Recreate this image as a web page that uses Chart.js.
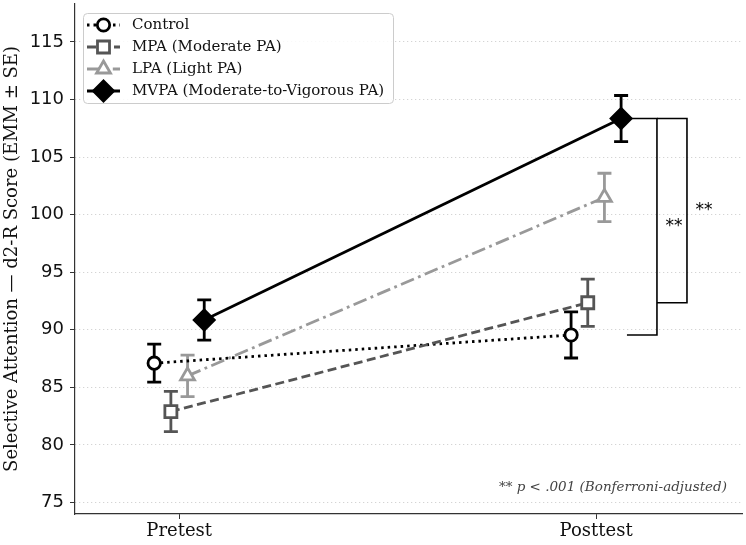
<!DOCTYPE html>
<html>
<head>
<meta charset="utf-8">
<title>Selective Attention d2-R</title>
<style>
  body { margin: 0; background: #fff; }
  #wrap { width: 746px; height: 545px; }
</style>
</head>
<body>
<div id="wrap"><canvas id="chart" width="746" height="545"></canvas></div>
<script src="https://cdn.jsdelivr.net/npm/chart.js@4/dist/chart.umd.min.js"></script>
<script>
// values (EMM and SE per group, pretest / posttest)
const timepoints = ['Pretest', 'Posttest'];
const groupNames = ['Control', 'MPA (Moderate PA)', 'LPA (Light PA)', 'MVPA (Moderate-to-Vigorous PA)'];
const controlMean = [87.1, 89.55];
const controlSE = [1.65, 2.0];
const mpaMean = [82.9, 92.35];
const mpaSE = [1.75, 2.05];
const lpaMean = [86.0, 101.5];
const lpaSE = [1.8, 2.1];
const mvpaMean = [90.85, 108.35];
const mvpaSE = [1.75, 2.0];
const yTicks = [75, 80, 85, 90, 95, 100, 105, 110, 115];
// posttest comparisons: [lower group, upper group, label]
const sigPairs = [[0, 3, '**'], [1, 3, '**']];
const footnote = '** p < .001 (Bonferroni-adjusted)';

const means = [controlMean, mpaMean, lpaMean, mvpaMean];
const ses = [controlSE, mpaSE, lpaSE, mvpaSE];

// look
const serif = "'DejaVu Serif', 'Liberation Serif', serif";
const sans = "'DejaVu Sans', sans-serif";
const lw = 2.8;
const dodge = [-0.06, -0.02, 0.02, 0.06];
const styles = [
    { color: '#000000', dash: [2.5, 4], point: 'circle', r: 6.2, fill: '#ffffff' },
    { color: '#555555', dash: [9, 4.5], point: 'rect', r: 8.5, fill: '#ffffff' },
    { color: '#999999', dash: [14, 4.5, 2.8, 4.5], point: 'triangle', r: 8, fill: '#ffffff' },
    { color: '#000000', dash: [], point: 'rectRot', r: 10, fill: '#000000' }
];
const bracketX = [1.146, 1.218];
const bracketTick = 0.072;

const datasets = groupNames.map((name, g) => ({
    label: name,
    data: means[g].map((m, i) => ({ x: i + dodge[g], y: m })),
    borderColor: styles[g].color,
    borderWidth: lw,
    borderDash: styles[g].dash,
    pointStyle: styles[g].point,
    pointRadius: styles[g].r,
    pointHoverRadius: styles[g].r,
    pointBackgroundColor: styles[g].fill,
    pointBorderColor: styles[g].color,
    pointBorderWidth: lw,
    tension: 0,
    order: 3 - g
}));

// error bars (mean +/- SE) under the markers
const errorBars = {
    id: 'errorBars',
    beforeDatasetsDraw(chart) {
        const { ctx, scales: { x, y } } = chart;
        ctx.save();
        ctx.setLineDash([]);
        chart.data.datasets.forEach((ds, g) => {
            ctx.strokeStyle = ds.borderColor;
            ctx.lineWidth = lw;
            ds.data.forEach((p, i) => {
                const px = x.getPixelForValue(p.x);
                const top = y.getPixelForValue(p.y + ses[g][i]);
                const bot = y.getPixelForValue(p.y - ses[g][i]);
                ctx.beginPath();
                ctx.moveTo(px, top); ctx.lineTo(px, bot);
                ctx.moveTo(px - 7, top); ctx.lineTo(px + 7, top);
                ctx.moveTo(px - 7, bot); ctx.lineTo(px + 7, bot);
                ctx.stroke();
            });
        });
        ctx.restore();
    }
};

// significance brackets, footnote and legend
const extras = {
    id: 'extras',
    afterDraw(chart) {
        const { ctx, scales: { x, y }, chartArea } = chart;
        ctx.save();
        ctx.setLineDash([]);

        sigPairs.forEach((pair, k) => {
            const yLo = y.getPixelForValue(means[pair[0]][1]);
            const yHi = y.getPixelForValue(means[pair[1]][1]);
            const xb = x.getPixelForValue(bracketX[k]);
            const xl = x.getPixelForValue(bracketX[k] - bracketTick);
            ctx.strokeStyle = '#000';
            ctx.lineWidth = 1.6;
            ctx.beginPath();
            ctx.moveTo(xl, yHi); ctx.lineTo(xb, yHi);
            ctx.lineTo(xb, yLo); ctx.lineTo(xl, yLo);
            ctx.stroke();
            ctx.fillStyle = '#000';
            ctx.font = '17px ' + sans;
            ctx.textAlign = 'center';
            ctx.textBaseline = 'middle';
            ctx.fillText(pair[2], xb + 17, (yLo + yHi) / 2);
        });

        ctx.font = 'italic 13.5px ' + serif;
        ctx.fillStyle = '#444';
        ctx.textAlign = 'right';
        ctx.textBaseline = 'middle';
        ctx.fillText(footnote, chartArea.right - 15, 487);

        // legend box
        const bx = 83.5, by = 13.5, bw = 310, bh = 90, rad = 4;
        ctx.beginPath();
        ctx.moveTo(bx + rad, by);
        ctx.arcTo(bx + bw, by, bx + bw, by + bh, rad);
        ctx.arcTo(bx + bw, by + bh, bx, by + bh, rad);
        ctx.arcTo(bx, by + bh, bx, by, rad);
        ctx.arcTo(bx, by, bx + bw, by, rad);
        ctx.closePath();
        ctx.fillStyle = 'rgba(255,255,255,0.85)';
        ctx.fill();
        ctx.strokeStyle = '#cccccc';
        ctx.lineWidth = 1;
        ctx.stroke();

        chart.data.datasets.forEach((ds, g) => {
            const cy = 25 + g * 22;
            ctx.strokeStyle = ds.borderColor;
            ctx.lineWidth = ds.borderWidth;
            ctx.setLineDash(ds.borderDash);
            ctx.beginPath();
            ctx.moveTo(87, cy); ctx.lineTo(120, cy);
            ctx.stroke();
            ctx.setLineDash([]);
            ctx.fillStyle = ds.pointBackgroundColor;
            ctx.lineWidth = ds.pointBorderWidth;
            Chart.helpers.drawPoint(ctx, {
                pointStyle: ds.pointStyle, radius: ds.pointRadius,
                rotation: 0, borderWidth: ds.pointBorderWidth
            }, 103.5, cy);
            ctx.fillStyle = '#111';
            ctx.font = '15px ' + serif;
            ctx.textAlign = 'left';
            ctx.textBaseline = 'middle';
            ctx.fillText(ds.label, 132, cy);
        });
        ctx.restore();
    }
};

new Chart(document.getElementById('chart'), {
    type: 'line',
    data: { datasets },
    plugins: [errorBars, extras],
    options: {
        responsive: false,
        animation: false,
        events: [],
        layout: { autoPadding: false, padding: { top: 4, right: 4, left: 0, bottom: 0 } },
        plugins: { legend: { display: false }, tooltip: { enabled: false } },
        scales: {
            x: {
                type: 'linear',
                min: -0.25,
                max: 1.35,
                afterBuildTicks: s => { s.ticks = timepoints.map((t, i) => ({ value: i })); },
                afterFit: s => { s.height = 31; s.paddingLeft = 0; s.paddingRight = 0; },
                ticks: {
                    callback: v => timepoints[v],
                    font: { family: serif, size: 18 },
                    color: '#111',
                    padding: 2,
                    maxRotation: 0
                },
                grid: { drawOnChartArea: false, tickLength: 5, tickColor: '#333', tickWidth: 1 },
                border: { color: '#333', width: 1.2 }
            },
            y: {
                min: 74,
                max: 118.3,
                afterBuildTicks: s => { s.ticks = yTicks.map(v => ({ value: v })); },
                afterFit: s => { s.width = 75; s.paddingTop = 0; s.paddingBottom = 0; },
                ticks: {
                    font: { family: sans, size: 18 },
                    color: '#111',
                    padding: 6
                },
                grid: { color: '#bbbbbb', lineWidth: 0.8, tickLength: 5, tickColor: '#333', tickWidth: 1 },
                border: { color: '#333', width: 1.2, dash: [1, 3] },
                title: {
                    display: true,
                    text: 'Selective Attention — d2-R Score (EMM ± SE)',
                    font: { family: serif, size: 18 },
                    color: '#111',
                    padding: { top: 2, bottom: 0 }
                }
            }
        }
    }
});
</script>
</body>
</html>
